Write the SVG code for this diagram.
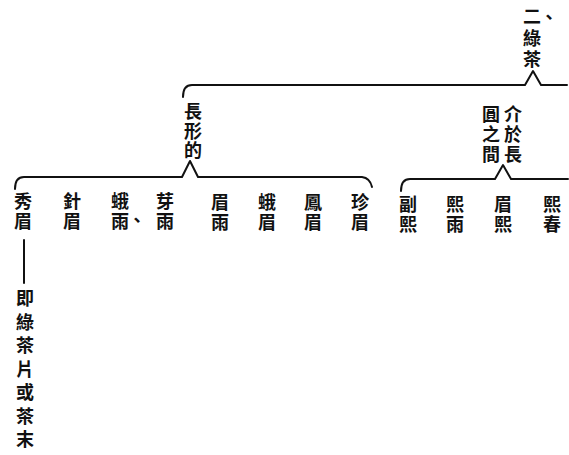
<svg xmlns="http://www.w3.org/2000/svg" width="569" height="455" viewBox="0 0 569 455">
<style>
.t{font-family:"Noto Sans CJK TC","Noto Sans CJK SC",sans-serif;font-size:18px;font-weight:700;fill:#111;text-anchor:middle}
.b{fill:none;stroke:#111;stroke-width:2;stroke-linecap:round;stroke-linejoin:round}
</style>
<rect width="569" height="455" fill="#fff"/>
<g id="connectors">
<path class="b" d="M183,97 Q183,85 192,85 L525,85 L533,71 L541,85 L567,85"/>
<path class="b" d="M15,189 Q15,177 24,177 L182,177 L190,161 L198,177 L362,177 Q370,178 372,187"/>
<path class="b" d="M401,191 Q401,179 410,179 L495,179 L503,165 L511,179 L568,179"/>
<path class="b" d="M24,240 L24,283"/>
</g>
<g id="root"><text class="t"><tspan x="532" y="23">二</tspan><tspan x="532" y="45">綠</tspan><tspan x="532" y="66">茶</tspan></text><text class="t" x="549" y="24" font-size="15">、</text></g>
<g id="long"><text class="t"><tspan x="193" y="118">長</tspan><tspan x="193" y="138">形</tspan><tspan x="193" y="157">的</tspan></text></g>
<g id="between"><text class="t"><tspan x="513" y="121">介</tspan><tspan x="513" y="141">於</tspan><tspan x="513" y="161">長</tspan></text><text class="t"><tspan x="491" y="121">圓</tspan><tspan x="491" y="141">之</tspan><tspan x="491" y="161">間</tspan></text></g>
<g id="xiumei"><text class="t"><tspan x="23" y="208">秀</tspan><tspan x="23" y="228">眉</tspan></text></g>
<g id="zhenmei"><text class="t"><tspan x="72" y="208">針</tspan><tspan x="72" y="228">眉</tspan></text></g>
<g id="eyu"><text class="t"><tspan x="120" y="208">蛾</tspan><tspan x="120" y="228">雨</tspan></text><text class="t" x="137" y="227" font-size="13">、</text></g>
<g id="yayu"><text class="t"><tspan x="165" y="208">芽</tspan><tspan x="165" y="228">雨</tspan></text></g>
<g id="meiyu"><text class="t"><tspan x="220" y="209">眉</tspan><tspan x="220" y="229">雨</tspan></text></g>
<g id="emei"><text class="t"><tspan x="267" y="209">蛾</tspan><tspan x="267" y="229">眉</tspan></text></g>
<g id="fengmei"><text class="t"><tspan x="313" y="209">鳳</tspan><tspan x="313" y="229">眉</tspan></text></g>
<g id="zhenmei2"><text class="t"><tspan x="360" y="209">珍</tspan><tspan x="360" y="229">眉</tspan></text></g>
<g id="fuxi"><text class="t"><tspan x="408" y="211">副</tspan><tspan x="408" y="231">熙</tspan></text></g>
<g id="xiyu"><text class="t"><tspan x="455" y="211">熙</tspan><tspan x="455" y="231">雨</tspan></text></g>
<g id="meixi"><text class="t"><tspan x="503" y="211">眉</tspan><tspan x="503" y="231">熙</tspan></text></g>
<g id="xichun"><text class="t"><tspan x="552" y="211">熙</tspan><tspan x="552" y="231">春</tspan></text></g>
<g id="note"><text class="t" font-size="20"><tspan x="25" y="305">即</tspan><tspan x="25" y="329">綠</tspan><tspan x="25" y="352">茶</tspan><tspan x="25" y="376">片</tspan><tspan x="25" y="399">或</tspan><tspan x="25" y="423">茶</tspan><tspan x="25" y="446">末</tspan></text></g>
</svg>
